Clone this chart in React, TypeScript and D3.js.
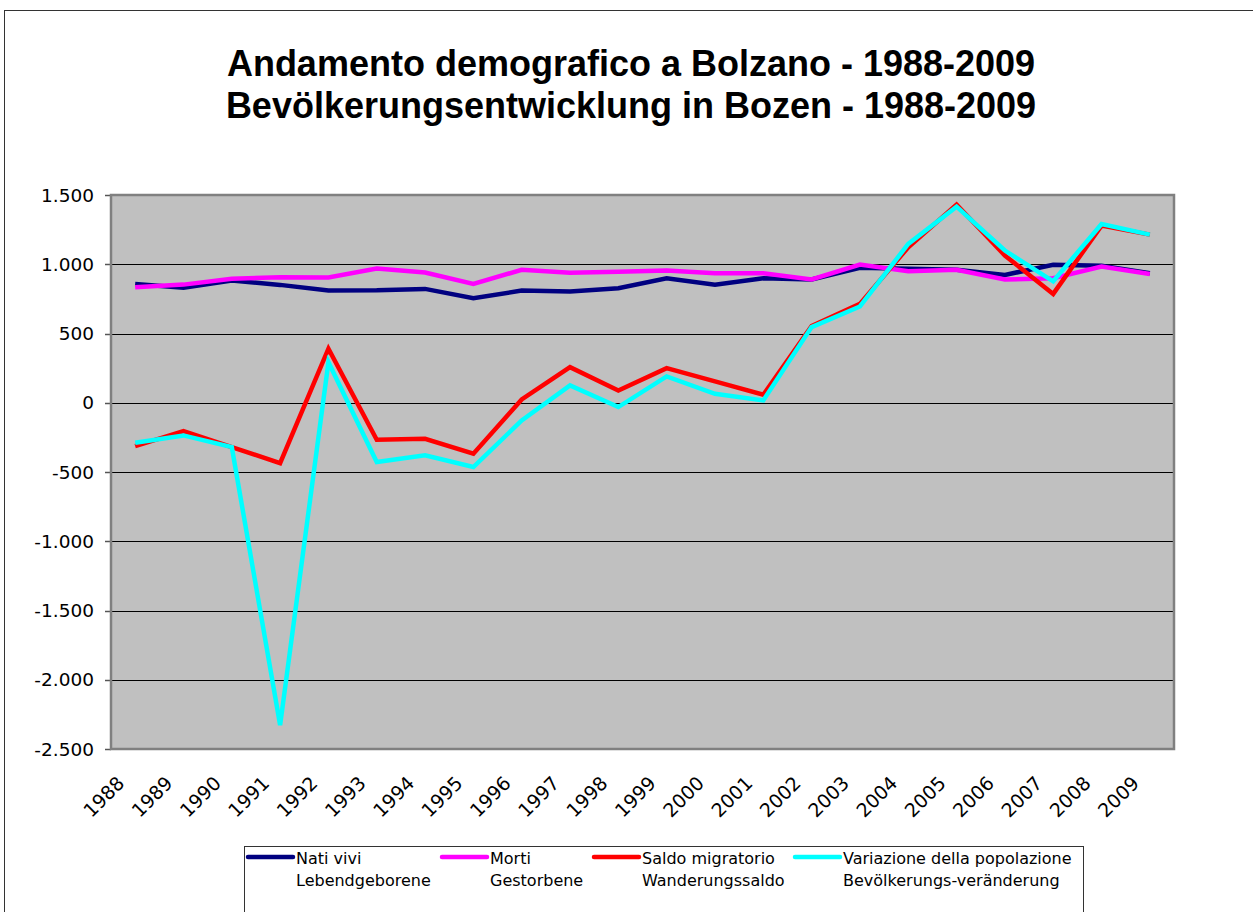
import React from "react";
import * as d3 from "d3";

const years = ["1988","1989","1990","1991","1992","1993","1994","1995","1996","1997","1998","1999","2000","2001","2002","2003","2004","2005","2006","2007","2008","2009"];
const natiVivi = [858, 830, 882, 851, 810, 812, 822, 755, 810, 803, 827, 899, 853, 899, 890, 974, 967, 960, 923, 996, 990, 935];
const morti = [834, 853, 895, 906, 904, 969, 940, 858, 960, 938, 945, 955, 935, 935, 890, 998, 950, 960, 890, 899, 983, 930];
const saldoMigratorio = [-313, -205, -320, -436, 390, -267, -260, -368, 24, 257, 89, 250, 154, 58, 553, 714, 1123, 1431, 1063, 786, 1279, 1214];
const variazione = [-289, -236, -320, -2328, 293, -428, -380, -464, -128, 125, -31, 190, 65, 17, 546, 695, 1147, 1416, 1099, 877, 1291, 1214];
const yTicks = [1500, 1000, 500, 0, -500, -1000, -1500, -2000, -2500];

const series = [
  { name: "Nati vivi", sub: "Lebendgeborene", values: natiVivi, color: "#000080" },
  { name: "Morti", sub: "Gestorbene", values: morti, color: "#ff00ff" },
  { name: "Saldo migratorio", sub: "Wanderungssaldo", values: saldoMigratorio, color: "#ff0000" },
  { name: "Variazione della popolazione", sub: "Bevölkerungs-veränderung", values: variazione, color: "#00ffff" },
];
const legendX = [248, 442, 594, 795];

const W = 1253, H = 912;
const plot = { left: 111, right: 1174, top: 195, bottom: 749 };
const axisFont = "Verdana, 'DejaVu Sans', sans-serif";
const titleFont = "Arial, 'Liberation Sans', sans-serif";

export default function App() {
  const x = d3.scaleBand().domain(years).range([plot.left, plot.right]);
  const y = d3.scaleLinear().domain([-2500, 1500]).range([plot.bottom, plot.top]);
  const line = d3.line<number>()
    .x((_, i) => (x(years[i]) as number) + x.bandwidth() / 2)
    .y(d => y(d));

  return (
    <svg width={W} height={H} style={{ position: "absolute", left: 0, top: 0, background: "#fff" }}>
      <rect x={4.5} y={10.5} width={1270} height={920} fill="#fff" stroke="#333" strokeWidth={1} />
      <text x={631} y={76} textAnchor="middle" fontFamily={titleFont} fontWeight="bold" fontSize={36}>
        Andamento demografico a Bolzano - 1988-2009
      </text>
      <text x={631} y={118} textAnchor="middle" fontFamily={titleFont} fontWeight="bold" fontSize={36}>
        Bevölkerungsentwicklung in Bozen - 1988-2009
      </text>

      <rect x={plot.left} y={plot.top} width={plot.right - plot.left} height={plot.bottom - plot.top} fill="#c0c0c0" />
      {yTicks.map(t => (
        <g key={t}>
          {t !== 1500 && t !== -2500 && (
            <line x1={plot.left} x2={plot.right} y1={Math.round(y(t)) + 0.5} y2={Math.round(y(t)) + 0.5} stroke="#000" strokeWidth={1} />
          )}
          <line x1={plot.left - 6} x2={plot.left} y1={Math.round(y(t)) + 0.5} y2={Math.round(y(t)) + 0.5} stroke="#555" strokeWidth={1.5} />
          <text x={plot.left - 17} y={y(t)} dy="0.36em" textAnchor="end" fontFamily={axisFont} fontSize={18.5} fill="#000">
            {d3.format(",")(t).replace(/,/g, ".").replace("−", "-")}
          </text>
        </g>
      ))}
      <rect x={plot.left} y={plot.top} width={plot.right - plot.left} height={plot.bottom - plot.top} fill="none" stroke="#808080" strokeWidth={2.5} />

      {series.map(s => (
        <path key={s.name} d={line(s.values) || ""} fill="none" stroke={s.color} strokeWidth={4.5} strokeLinejoin="miter" />
      ))}

      {years.map(yr => {
        const cx = (x(yr) as number) + x.bandwidth() / 2;
        return (
          <text key={yr} transform={`translate(${cx - 19},${plot.bottom + 26}) rotate(-45)`} textAnchor="end" dy="0.7em"
            fontFamily={axisFont} fontSize={19} fill="#000">
            {yr}
          </text>
        );
      })}

      <rect x={244.5} y={846.5} width={839} height={80} fill="#fff" stroke="#333" strokeWidth={1} />
      {series.map((s, i) => (
        <g key={s.name}>
          <line x1={legendX[i]} x2={legendX[i] + 45} y1={857} y2={857} stroke={s.color} strokeWidth={4.5} strokeLinecap="round" />
          <text x={legendX[i] + 48} y={864} fontFamily={axisFont} fontSize={16} fill="#000">{s.name}</text>
          <text x={legendX[i] + 48} y={886} fontFamily={axisFont} fontSize={16} fill="#000">{s.sub}</text>
        </g>
      ))}
    </svg>
  );
}
